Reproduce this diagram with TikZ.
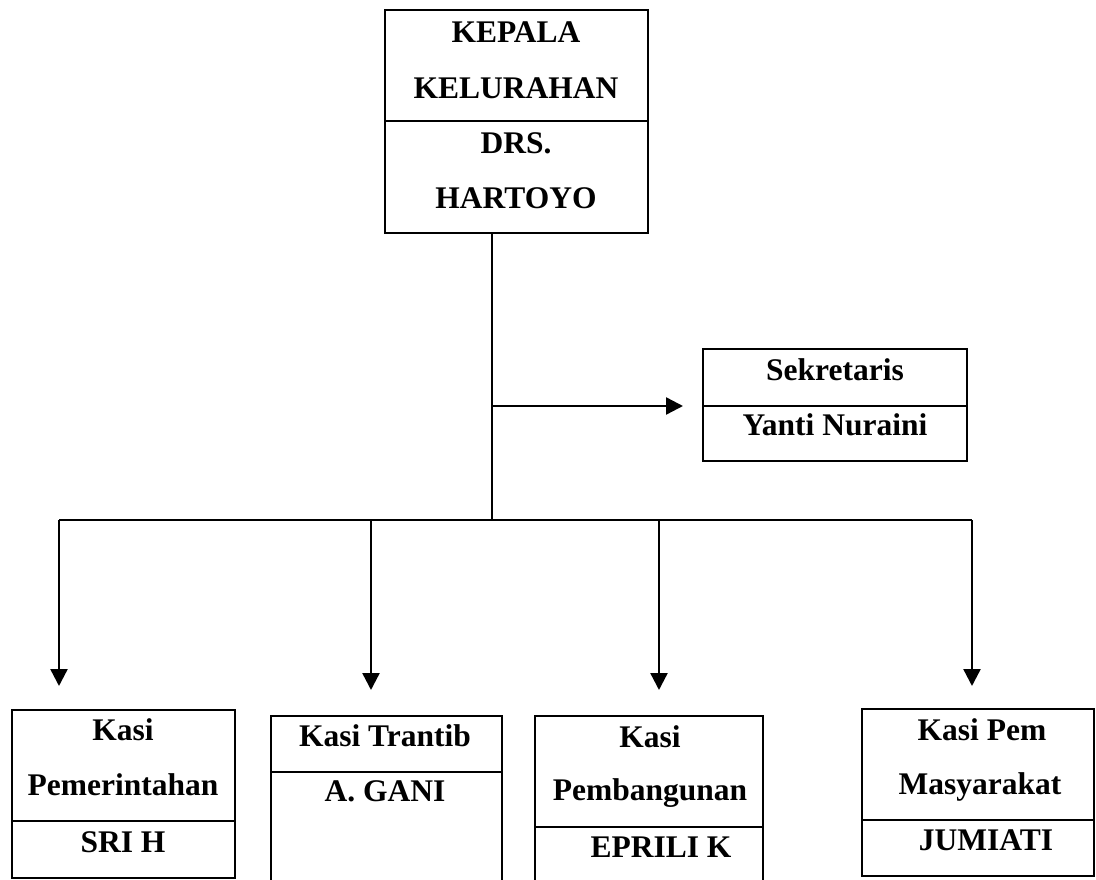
\documentclass[tikz,border=0pt]{standalone}
\usepackage{fontspec}
\setmainfont{Liberation Serif}
\usetikzlibrary{arrows.meta}
\tikzset{
  cell/.style={draw, line width=2.4pt, inner sep=0pt, outer sep=0pt, anchor=north west},
  lbl/.style={anchor=base, inner sep=0pt, font=\fontsize{31.5}{36}\selectfont\bfseries},
  conn/.style={line width=2.4pt},
  arr/.style={line width=2.4pt, -{Triangle[width=17pt,length=17pt]}}
}
\begin{document}
\begin{tikzpicture}[x=1pt,y=-1pt]
\useasboundingbox (0,0) rectangle (1096,880);
% top box
\node[cell, minimum width=263pt, minimum height=111pt] (kt) at (385,10) {};
\node[cell, minimum width=263pt, minimum height=112pt] (kb) at (385,121) {};
\node[lbl] (t1) at (516,43) {KEPALA};
\node[lbl] (t2) at (516,99) {KELURAHAN};
\node[lbl] (t3) at (516,154) {DRS.};
\node[lbl] (t4) at (516,209) {HARTOYO};
% secretary
\node[cell, minimum width=264pt, minimum height=57pt] (st) at (703,349) {};
\node[cell, minimum width=264pt, minimum height=55pt] (sb) at (703,406) {};
\node[lbl] (s1) at (835,380) {Sekretaris};
\node[lbl] (s2) at (835,435) {Yanti Nuraini};
% bottom boxes
\node[cell, minimum width=223pt, minimum height=111pt] (b1t) at (12,710) {};
\node[cell, minimum width=223pt, minimum height=57pt] (b1b) at (12,821) {};
\node[lbl] (p1) at (123,740) {Kasi};
\node[lbl] (p2) at (123,795) {Pemerintahan};
\node[lbl] (p3) at (123,852) {SRI H};
\node[cell, minimum width=231pt, minimum height=56pt] (b2t) at (271,716) {};
\node[cell, minimum width=231pt, minimum height=116pt] (b2b) at (271,772) {};
\node[lbl] (q1) at (385,746) {Kasi Trantib};
\node[lbl] (q2) at (385,801) {A. GANI};
\node[cell, minimum width=228pt, minimum height=111pt] (b3t) at (535,716) {};
\node[cell, minimum width=228pt, minimum height=61pt] (b3b) at (535,827) {};
\node[lbl] (r1) at (650,747) {Kasi};
\node[lbl] (r2) at (650,800) {Pembangunan};
\node[lbl] (r3) at (661,857) {EPRILI K};
\node[cell, minimum width=232pt, minimum height=111pt] (b4t) at (862,709) {};
\node[cell, minimum width=232pt, minimum height=56pt] (b4b) at (862,820) {};
\node[lbl] (u1) at (982,740) {Kasi Pem};
\node[lbl] (u2) at (980,794) {Masyarakat};
\node[lbl] (u3) at (986,850) {JUMIATI};
% connectors
\coordinate (trunk) at (492,520);
\coordinate (sj) at (492,406);
\coordinate (se) at (683,406);
\coordinate (barL) at (59,520);
\coordinate (barR) at (972,520);
\coordinate (a1) at (59,686);
\coordinate (a2) at (371,690);
\coordinate (a3) at (659,690);
\coordinate (a4) at (972,686);
\draw[conn] (kb.south -| trunk) -- (trunk);
\draw[arr] (sj) -- (se);
\draw[conn] (barL) -- (barR);
\draw[arr] (barL) -- (a1);
\draw[arr] (a2 |- trunk) -- (a2);
\draw[arr] (a3 |- trunk) -- (a3);
\draw[arr] (barR) -- (a4);
\end{tikzpicture}
\end{document}
